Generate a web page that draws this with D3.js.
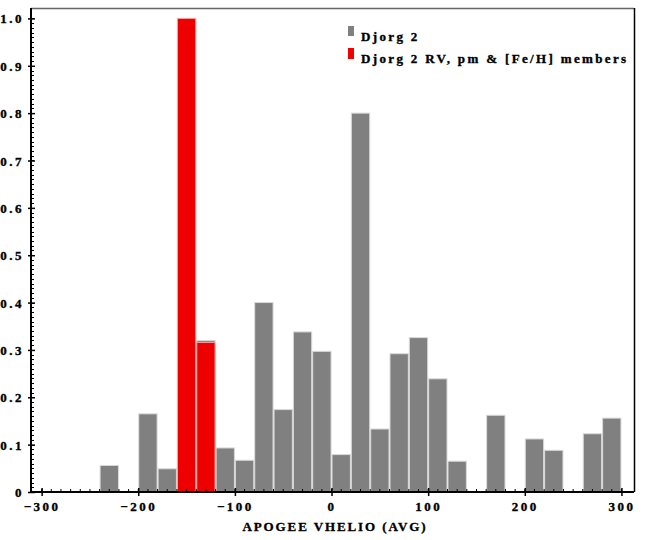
<!DOCTYPE html>
<html><head><meta charset="utf-8">
<script src="https://cdn.jsdelivr.net/npm/d3@7"></script>
<style>
body{margin:0;background:#fff;}
text{font-family:"Liberation Serif","Times New Roman",serif;font-weight:bold;fill:#000;stroke:#000;stroke-width:0.35px;}
</style></head>
<body><svg id="c" width="654" height="540"></svg>
<script>
// bin lower edges (width 20)
const binStarts = [-240,-220,-200,-180,-160,-140,-120,-100,-80,-60,-40,-20,0,20,40,60,80,100,120,140,160,180,200,220,240,260,280];
const allValues = [0.056,0,0.165,0.049,1.0,0.320,0.093,0.067,0.400,0.174,0.338,0.297,0.079,0.800,0.133,0.292,0.326,0.239,0.065,0,0.162,0,0.112,0.088,0,0.123,0.156];
const memberStarts = [-160,-140];
const memberValues = [1.0,0.316];
const binWidth = 20;
const xTicks = [-300,-200,-100,0,100,200,300];
const yTicks = [0,0.1,0.2,0.3,0.4,0.5,0.6,0.7,0.8,0.9,1.0];
const legendLabels = ["Djorg 2","Djorg 2 RV, pm & [Fe/H] members"];
const colors = ["#808080","#ee0000"];
const strokes = ["#d8d8d8","#f6a8a8"];
const xTitle = "APOGEE VHELIO (AVG)";

const svg = d3.select("#c");
const L=31,R=634,T=8,B=492;
const x = d3.scaleLinear().domain([-311,313]).range([L,R]);
const y = d3.scaleLinear().domain([0,1.022]).range([B,T]);

// bars
svg.append("g").selectAll("rect").data(binStarts.map((s,i)=>({s,v:allValues[i]})).filter(d=>d.v>0))
 .join("rect")
 .attr("x",d=>x(d.s)+0.5).attr("width",d=>x(d.s+binWidth)-x(d.s)-1)
 .attr("y",d=>y(d.v)).attr("height",d=>y(0)-y(d.v))
 .attr("fill",colors[0]).attr("stroke",strokes[0]).attr("stroke-width",1);
svg.append("g").selectAll("rect").data(memberStarts.map((s,i)=>({s,v:memberValues[i]})))
 .join("rect")
 .attr("x",d=>x(d.s)+0.5).attr("width",d=>x(d.s+binWidth)-x(d.s)-1)
 .attr("y",d=>y(d.v)).attr("height",d=>y(0)-y(d.v))
 .attr("fill",colors[1]).attr("stroke",strokes[1]).attr("stroke-width",1);

// frame
svg.append("line").attr("x1",L).attr("x2",R).attr("y1",T+0.5).attr("y2",T+0.5).attr("stroke","#666").attr("stroke-width",1.5);
svg.append("line").attr("x1",R+0.5).attr("x2",R+0.5).attr("y1",T).attr("y2",B).attr("stroke","#000").attr("stroke-width",1.5);

// y axis
const yAxis = svg.append("g").attr("transform",`translate(${L},0)`)
 .call(d3.axisLeft(y).tickValues(yTicks).tickSize(3).tickFormat(d=>d===0?"0":d3.format(".1f")(d)));
yAxis.select(".domain").attr("stroke","#000").attr("stroke-width",2).attr("d",`M0,${B}V${T}`);
yAxis.selectAll(".tick line").attr("x2",-3).attr("x1",4).attr("stroke-width",1.5);
yAxis.selectAll(".tick text").attr("x",-7).attr("font-size",13).style("letter-spacing","2.5px").attr("dy","0.35em");
const yMinor = d3.range(0,1.0001,0.01);
svg.append("g").selectAll("line").data(yMinor).join("line")
 .attr("x1",L).attr("x2",L+3).attr("y1",d=>Math.round(y(d))+0.5).attr("y2",d=>Math.round(y(d))+0.5).attr("stroke","#000");

// x axis
const xAxis = svg.append("g").attr("transform",`translate(0,${B})`)
 .call(d3.axisBottom(x).tickValues(xTicks).tickSize(3).tickFormat(d3.format("d")));
xAxis.select(".domain").attr("stroke","#000").attr("stroke-width",2).attr("d",`M${L},0H${R}`);
xAxis.selectAll(".tick line").attr("y1",-4).attr("y2",4).attr("stroke-width",1.5);
xAxis.selectAll(".tick text").attr("y",10).attr("font-size",13).style("letter-spacing","2.5px").attr("dy","0.71em").attr("text-anchor","middle");
const xMinor = d3.range(-300,301,10);
svg.append("g").selectAll("line").data(xMinor).join("line")
 .attr("x1",d=>x(d)).attr("x2",d=>x(d)).attr("y1",B-3).attr("y2",B+1).attr("stroke","#000");

// x title
svg.append("text").attr("x",335).attr("y",531).attr("text-anchor","middle").attr("font-size",13)
 .style("letter-spacing","1.9px").text(xTitle);

// legend
const lg = svg.append("g");
legendLabels.forEach((t,i)=>{
  lg.append("rect").attr("x",348).attr("y",26+i*22).attr("width",6).attr("height",i?11:10).attr("fill",colors[i]);
  lg.append("text").attr("x",361).attr("y",41+i*22).attr("font-size",13).style("letter-spacing","2.35px").text(t);
});
</script></body></html>
